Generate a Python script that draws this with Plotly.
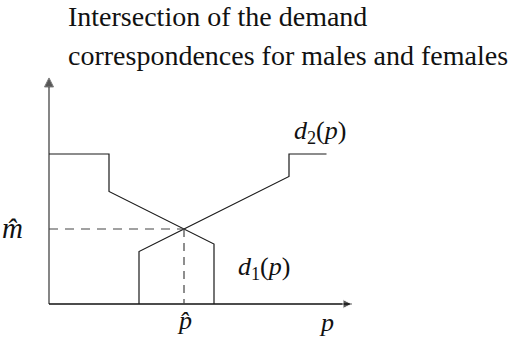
import plotly.graph_objects as go

# Demand correspondences (price p on the horizontal axis, quantity m on the vertical)
d1_p = [0, 4, 4, 9, 11, 11]
d1_m = [10, 10, 7.5, 5, 4, 0]
d2_p = [6, 6, 9, 16, 16, 18.5]
d2_m = [0, 3.5, 5, 8.5, 10, 10]

# Equilibrium point where the two correspondences cross
p_hat = 9
m_hat = 5

# Axis extents
P_MAX = 20.2
M_MAX = 15.07

title_lines = ["Intersection of the demand", "correspondences for males and females"]

SERIF = "Liberation Serif"
INK = "#1a1a1a"

fig = go.Figure()

# Axes drawn as lines ending in arrowheads
fig.add_trace(go.Scatter(x=[0, 0], y=[0, M_MAX], mode="lines+markers",
                         line=dict(color="#444", width=1.3),
                         marker=dict(symbol=["circle", "arrow-up"], size=[0, 9], color="#111"),
                         hoverinfo="skip"))
fig.add_trace(go.Scatter(x=[0, P_MAX], y=[0, 0], mode="lines+markers",
                         line=dict(color="#111", width=1.3),
                         marker=dict(symbol=["circle", "arrow-right"], size=[0, 9], color="#111"),
                         hoverinfo="skip"))

fig.add_trace(go.Scatter(x=d1_p, y=d1_m, mode="lines",
                         line=dict(color=INK, width=1.2), hoverinfo="skip"))
fig.add_trace(go.Scatter(x=d2_p, y=d2_m, mode="lines",
                         line=dict(color=INK, width=1.2), hoverinfo="skip"))

# Dashed guides to the axes
fig.add_trace(go.Scatter(x=[0, p_hat], y=[m_hat, m_hat], mode="lines",
                         line=dict(color="#444", width=1.2, dash="9px,7px"), hoverinfo="skip"))
fig.add_trace(go.Scatter(x=[p_hat, p_hat], y=[m_hat, 0], mode="lines",
                         line=dict(color="#444", width=1.2, dash="8px,6px"), hoverinfo="skip"))

lab_font = dict(family=SERIF, size=26, color="#111")
fig.add_annotation(x=-2.43, y=m_hat + 0.05, text="<i>m\u0302</i>", showarrow=False,
                   font=dict(family=SERIF, size=29, color="#111"))
fig.add_annotation(x=p_hat, y=-1.1, text="<i>p\u0302</i>", showarrow=False, font=lab_font)
fig.add_annotation(x=18.53, y=-1.2, text="<i>p</i>", showarrow=False, font=lab_font)
fig.add_annotation(x=14.35, y=2.4, text="<i>d</i><sub>1</sub>(<i>p</i>)", showarrow=False, font=lab_font)
fig.add_annotation(x=18.07, y=11.47, text="<i>d</i><sub>2</sub>(<i>p</i>)", showarrow=False, font=lab_font)

title_font = dict(family=SERIF, size=28, color="#111")
fig.add_annotation(x=66 / 510, y=1 - 17 / 345, xref="paper", yref="paper", xanchor="left",
                   yanchor="middle", text=title_lines[0], showarrow=False, font=title_font)
fig.add_annotation(x=66 / 510, y=1 - 56 / 345, xref="paper", yref="paper", xanchor="left",
                   yanchor="middle", text=title_lines[1], showarrow=False, font=title_font)

fig.update_layout(
    width=510, height=345,
    margin=dict(l=0, r=0, t=0, b=0),
    paper_bgcolor="white", plot_bgcolor="white",
    showlegend=False,
    xaxis=dict(range=[-49 / 15, (510 - 49) / 15], visible=False, fixedrange=True),
    yaxis=dict(range=[-(345 - 304) / 15, 304 / 15], visible=False, fixedrange=True),
)

fig.write_html("out.html", config={"displayModeBar": False})
